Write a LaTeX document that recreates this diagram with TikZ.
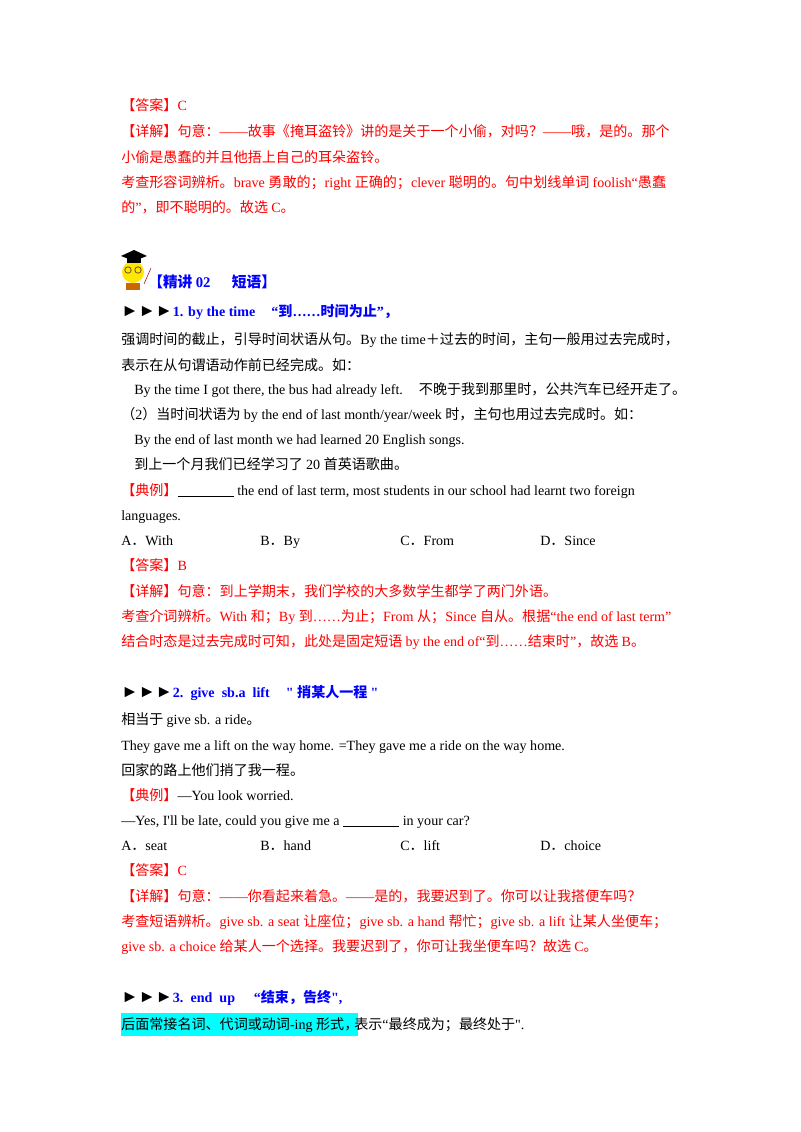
\documentclass[tikz,border=0pt]{standalone}
\usepackage{fontspec}
\setmainfont{Liberation Serif}
\newfontfamily\cjkf{Noto Sans CJK SC}
\newfontfamily\latf{Liberation Serif}
\newfontfamily\symf{DejaVu Sans}
\definecolor{hl}{RGB}{0,255,255}
\XeTeXinterchartokenstate=1
\newcount\cc \cc="4E00
\loop \XeTeXcharclass\cc=1 \advance\cc by 1 \ifnum\cc<"A000 \repeat
\XeTeXcharclass"3010=2 \XeTeXcharclass"300A=2 \XeTeXcharclass"FF08=2
\XeTeXcharclass"3011=3 \XeTeXcharclass"300B=3 \XeTeXcharclass"FF09=3
\XeTeXcharclass"FF0C=3 \XeTeXcharclass"3002=3 \XeTeXcharclass"3001=3
\XeTeXcharclass"FF1A=3 \XeTeXcharclass"FF1B=3 \XeTeXcharclass"FF1F=3
\XeTeXcharclass"FF0E=3 \XeTeXcharclass"FF0B=1
\XeTeXinterchartoks 0 1 = {\cjkf}\XeTeXinterchartoks 0 2 = {\cjkf}\XeTeXinterchartoks 0 3 = {\cjkf}
\XeTeXinterchartoks 4095 1 = {\cjkf}\XeTeXinterchartoks 4095 2 = {\cjkf}\XeTeXinterchartoks 4095 3 = {\cjkf}
\XeTeXinterchartoks 1 0 = {\latf}\XeTeXinterchartoks 2 0 = {\latf}\XeTeXinterchartoks 3 0 = {\latf}
\XeTeXinterchartoks 4095 0 = {\latf}
\newcommand{\tri}{{\symf\fontsize{13}{14}\selectfont ►►►}}
\newcommand{\blank}{\rule[-1pt]{42pt}{0.4pt}}
\tikzset{
  txt/.style={anchor=base west,inner sep=0pt,font=\fontsize{10.5}{12}\selectfont\latf},
  cjk/.style={txt,font=\fontsize{10.5}{12}\selectfont\cjkf},
  ans/.style={cjk,text=red},
  head/.style={txt,text=blue,font=\fontsize{11}{13}\selectfont\bfseries\cjkf},
}
\begin{document}
\begin{tikzpicture}[x=0.02625cm,y=-0.02625cm]
\useasboundingbox (0,0) rectangle (800,1132);
% answer of previous item
\node[ans] (a1) at (121,110) {【答案】C};
\node[ans] (a2) at (121,136) {【详解】句意：——故事《掩耳盗铃》讲的是关于一个小偷，对吗？——哦，是的。那个};
\node[ans] (a3) at (121,162) {小偷是愚蠢的并且他捂上自己的耳朵盗铃。};
\node[ans] (a4) at (121,187) {考查形容词辨析。brave 勇敢的；right 正确的；clever 聪明的。句中划线单词 foolish“愚蠢};
\node[ans] (a5) at (121,212) {的”，即不聪明的。故选 C。};
% icon
\fill[yellow!90!orange] (133,272) circle (11);
\draw[brown!60!black,line width=0.6pt] (128,270) circle (3.2) (138,270) circle (3.2);
\fill[black] (121,256) -- (134,250) -- (147,256) -- (134,261) -- cycle;
\fill[black] (127,258) rectangle (141,263);
\fill[orange!80!black] (126,283) rectangle (140,290);
\draw[red!70!black] (144,284) -- (151,268);
\node[head] (h0) at (148,287) {【精讲 02\hspace{16pt}短语】};
% 1. by the time
\node[txt] (t1) at (121,316) {\tri\textcolor{blue}{\bfseries 1. by the time\hspace{12pt}“到……时间为止”，}};
\node[cjk] (b1) at (121,344) {强调时间的截止，引导时间状语从句。By the time＋过去的时间，主句一般用过去完成时，};
\node[cjk] (b2) at (121,370) {表示在从句谓语动作前已经完成。如：};
\node[txt] (b3) at (134,394) {By the time I got there, the bus had already left.\hspace{12pt}不晚于我到那里时，公共汽车已经开走了。};
\node[cjk] (b4) at (121,419) {（2）当时间状语为 by the end of last month/year/week 时，主句也用过去完成时。如：};
\node[txt] (b5) at (134,444) {By the end of last month we had learned 20 English songs.};
\node[cjk] (b6) at (134,469) {到上一个月我们已经学习了 20 首英语歌曲。};
\node[txt,text width=557*0.02625cm,align=justify] (q1) at (121,495)
  {\textcolor{red}{\cjkf【典例】}\blank\ the end of last term, most students in our school had learnt two foreign};
\node[txt] (q2) at (121,520) {languages.};
\foreach \x/\o [count=\i] in {121/A．With,260/B．By,400/C．From,540/D．Since}
  \node[txt] (o1\i) at (\x,545) {\o};
\node[ans] (c1) at (121,570) {【答案】B};
\node[ans] (c2) at (121,596) {【详解】句意：到上学期末，我们学校的大多数学生都学了两门外语。};
\node[ans] (c3) at (121,621) {考查介词辨析。With 和；By 到……为止；From 从；Since 自从。根据“the end of last term”};
\node[ans] (c4) at (121,646) {结合时态是过去完成时可知，此处是固定短语 by the end of“到……结束时”，故选 B。};
% 2. give sb. a lift
\node[txt] (t2) at (121,697) {\tri\textcolor{blue}{\bfseries 2.\ \ give\ \ sb.a\ \ lift\hspace{12pt}" 捎某人一程 "}};
\node[cjk] (d1) at (121,724) {相当于 give sb. a ride。};
\node[txt] (d2) at (121,750) {They gave me a lift on the way home. =They gave me a ride on the way home.};
\node[cjk] (d3) at (121,775) {回家的路上他们捎了我一程。};
\node[cjk] (q3) at (121,800) {\textcolor{red}{【典例】}—You look worried.};
\node[txt] (q4) at (121,825) {—Yes, I'll be late, could you give me a \blank\ in your car?};
\foreach \x/\o [count=\i] in {121/A．seat,260/B．hand,400/C．lift,540/D．choice}
  \node[txt] (o2\i) at (\x,850) {\o};
\node[ans] (e1) at (121,875) {【答案】C};
\node[ans] (e2) at (121,901) {【详解】句意：——你看起来着急。——是的，我要迟到了。你可以让我搭便车吗？};
\node[ans] (e3) at (121,926) {考查短语辨析。give sb. a seat 让座位；give sb. a hand 帮忙；give sb. a lift 让某人坐便车；};
\node[txt,text=red] (e4) at (121,951) {give sb. a choice 给某人一个选择。我要迟到了，你可让我坐便车吗？故选 C。};
% 3. end up
\node[txt] (t3) at (121,1002) {\tri\textcolor{blue}{\bfseries 3.\ \ end\ \ up\hspace{14pt}“结束，告终",}};
\node[cjk] (f1) at (121,1029) {\colorbox{hl}{\hspace{-3pt}\cjkf 后面常接名词、代词或动词-ing 形式，\hspace{-3pt}}\hspace{-3pt}表示“最终成为；最终处于".};
\end{tikzpicture}
\end{document}
